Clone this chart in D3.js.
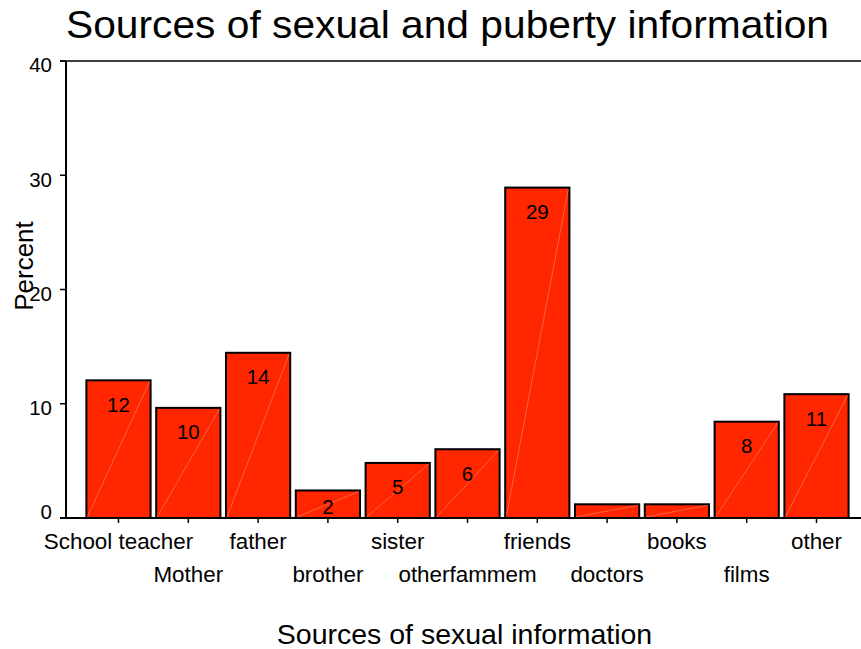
<!DOCTYPE html>
<html>
<head>
<meta charset="utf-8">
<script src="https://cdn.jsdelivr.net/npm/d3@7/dist/d3.min.js"></script>
<style>
  html, body { margin: 0; padding: 0; background: #ffffff; }
  svg { display: block; font-family: "Liberation Sans", Arial, Helvetica, sans-serif; }
</style>
</head>
<body>
<svg id="chart" width="861" height="649"></svg>
<script>
// Share of respondents naming each source of sexual and puberty information (%)
const categories = ["School teacher", "Mother", "father", "brother", "sister",
  "otherfammem", "friends", "doctors", "books", "films", "other"];
const percents = [12.05, 9.64, 14.46, 2.41, 4.82, 6.02, 28.92, 1.20, 1.20, 8.43, 10.84];
const yTicks = [0, 10, 20, 30, 40];

const titleText = "Sources of sexual and puberty information";
const xTitle = "Sources of sexual information";
const yTitle = "Percent";

const W = 861, H = 649;
const svg = d3.select("#chart");

const x = d3.scaleBand()
  .domain(categories)
  .range([83.6, 851.4])
  .paddingInner(0.08)
  .paddingOuter(0.04);

const y = d3.scaleLinear().domain([0, 40]).range([518, 61]);

const barFill = "#ff2600";
const fmt = d3.format(".0f");

// Title
svg.append("text")
  .attr("x", 66).attr("y", 38)
  .attr("font-size", 39)
  .attr("textLength", 763)
  .attr("lengthAdjust", "spacingAndGlyphs")
  .attr("fill", "#000")
  .text(titleText);

// Bars
const bars = svg.append("g").selectAll("g.bar")
  .data(categories.map((c, i) => ({ c, v: percents[i] })))
  .join("g").attr("class", "bar");

bars.append("rect")
  .attr("x", d => x(d.c))
  .attr("y", d => y(d.v))
  .attr("width", x.bandwidth())
  .attr("height", d => y(0) - y(d.v))
  .attr("fill", barFill)
  .attr("stroke", "#000")
  .attr("stroke-width", 2);

// faint diagonal highlight across each bar
bars.append("line")
  .attr("x1", d => x(d.c) + 1)
  .attr("y1", y(0) - 1)
  .attr("x2", d => x(d.c) + x.bandwidth() - 1)
  .attr("y2", d => y(d.v) + 1)
  .attr("stroke", "rgba(255,255,255,0.35)")
  .attr("stroke-width", 0.8);

// value labels inside the bar tops (too-short bars left unlabeled)
bars.filter(d => y(0) - y(d.v) >= 20)
  .append("text")
  .attr("x", d => x(d.c) + x.bandwidth() / 2)
  .attr("y", d => Math.min(y(d.v) + 24, y(0) - 11.5))
  .attr("dy", "0.36em")
  .attr("text-anchor", "middle")
  .attr("font-size", 20.5)
  .attr("fill", "#000")
  .text(d => fmt(d.v));

// Frame: top rule and axes
svg.append("line")
  .attr("x1", 60).attr("x2", W).attr("y1", y(40)).attr("y2", y(40))
  .attr("stroke", "#000").attr("stroke-width", 1.6);

const yAxis = svg.append("g");
yAxis.append("line")
  .attr("x1", 66).attr("x2", 66).attr("y1", y(40)).attr("y2", y(0))
  .attr("stroke", "#000").attr("stroke-width", 2);
yAxis.selectAll("line.tick")
  .data(yTicks).join("line").attr("class", "tick")
  .attr("x1", 60).attr("x2", 66)
  .attr("y1", d => y(d)).attr("y2", d => y(d))
  .attr("stroke", "#000").attr("stroke-width", 1.5);
yAxis.selectAll("text")
  .data(yTicks).join("text")
  .attr("x", 52)
  .attr("y", d => y(d) + (d === 0 ? -6 : 4))
  .attr("dy", "0.36em")
  .attr("text-anchor", "end")
  .attr("font-size", 20.5)
  .text(d => d);

const xAxis = svg.append("g");
xAxis.append("line")
  .attr("x1", 60).attr("x2", W).attr("y1", y(0)).attr("y2", y(0))
  .attr("stroke", "#000").attr("stroke-width", 2);
xAxis.selectAll("line.tick")
  .data(categories).join("line").attr("class", "tick")
  .attr("x1", d => x(d) + x.bandwidth() / 2)
  .attr("x2", d => x(d) + x.bandwidth() / 2)
  .attr("y1", y(0)).attr("y2", y(0) + 5)
  .attr("stroke", "#000").attr("stroke-width", 1.5);
// category labels staggered over two rows
xAxis.selectAll("text")
  .data(categories).join("text")
  .attr("x", d => x(d) + x.bandwidth() / 2)
  .attr("y", (d, i) => i % 2 === 0 ? 549 : 582)
  .attr("text-anchor", "middle")
  .attr("font-size", 22.4)
  .text(d => d);

// Axis titles
svg.append("text")
  .attr("x", (276 + 653) / 2).attr("y", 644)
  .attr("text-anchor", "middle")
  .attr("font-size", 28.5)
  .text(xTitle);

svg.append("text")
  .attr("transform", "translate(33,266) rotate(-90)")
  .attr("text-anchor", "middle")
  .attr("font-size", 26)
  .text(yTitle);
</script>
</body>
</html>
